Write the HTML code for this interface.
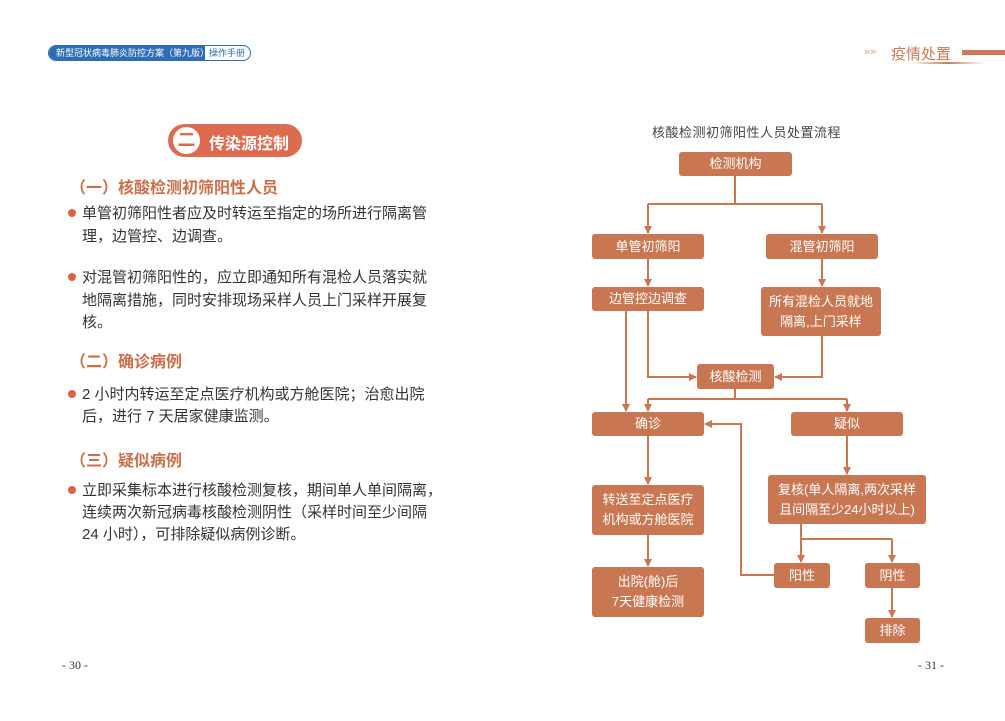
<!DOCTYPE html>
<html><head><meta charset="utf-8"><style>
body{margin:0;width:1005px;height:721px;background:#fff;position:relative;overflow:hidden;font-family:"Liberation Sans","Noto Sans CJK SC",sans-serif;}
.a{position:absolute;white-space:nowrap;}
.t{font-size:15px;color:#333;left:82px;line-height:15px;}
.d{position:absolute;width:8px;height:8px;border-radius:50%;background:#d9644a;left:68px;}
.h{font-size:16px;font-weight:bold;color:#c8704a;left:70px;}
.b{position:absolute;background:#c97752;border-radius:3px;color:#fff;font-size:13px;display:flex;align-items:center;justify-content:center;text-align:center;line-height:20px;}
</style></head><body>
<div class="a" style="left:48px;top:45px;width:203px;height:16px;border:1px solid #2f6db5;border-radius:9px;overflow:hidden;box-sizing:border-box;">
<div style="position:absolute;left:0;top:0;width:156px;height:16px;background:#2f6db5;color:#fff;font-size:9px;line-height:14px;padding-left:7px;box-sizing:border-box;">新型冠状病毒肺炎防控方案（第九版）</div>
<div style="position:absolute;left:160px;top:0;color:#2f6db5;font-size:9px;line-height:14px;">操作手册</div></div>
<div class="a" style="left:864px;top:46px;color:#d8a080;font-size:11px;">»»</div>
<div class="a" style="left:891px;top:43px;color:#c97c55;font-size:15px;">疫情处置</div>
<div class="a" style="left:962px;top:50px;width:43px;height:5px;background:#c97c55;"></div>
<div class="a" style="left:910px;top:62px;width:75px;height:2px;background:linear-gradient(90deg,#fff,#c97c55,#fff);"></div>

<div class="a" style="left:168px;top:124px;width:134px;height:33px;border-radius:17px;background:#dd6b50;"></div>
<div class="a" style="left:173px;top:127px;width:27px;height:27px;border-radius:50%;background:#fff;color:#dd6b50;font-weight:bold;font-size:18px;text-align:center;line-height:27px;">二</div>
<div class="a" style="left:209px;top:130px;color:#fff;font-weight:bold;font-size:16px;">传染源控制</div>

<div class="a h" style="top:174px;">（一）核酸检测初筛阳性人员</div>
<div class="d" style="top:209px"></div>
<div class="a t" style="top:206px">单管初筛阳性者应及时转运至指定的场所进行隔离管</div>
<div class="a t" style="top:229px">理，边管控、边调查。</div>
<div class="d" style="top:273px"></div>
<div class="a t" style="top:270px">对混管初筛阳性的，应立即通知所有混检人员落实就</div>
<div class="a t" style="top:293px">地隔离措施，同时安排现场采样人员上门采样开展复</div>
<div class="a t" style="top:315px">核。</div>
<div class="a h" style="top:348px;">（二）确诊病例</div>
<div class="d" style="top:390px"></div>
<div class="a t" style="top:387px">2 小时内转运至定点医疗机构或方舱医院；治愈出院</div>
<div class="a t" style="top:409px">后，进行 7 天居家健康监测。</div>
<div class="a h" style="top:447px;">（三）疑似病例</div>
<div class="d" style="top:486px"></div>
<div class="a t" style="top:483px">立即采集标本进行核酸检测复核，期间单人单间隔离，</div>
<div class="a t" style="top:505px">连续两次新冠病毒核酸检测阴性（采样时间至少间隔</div>
<div class="a t" style="top:527px">24 小时），可排除疑似病例诊断。</div>
<div class="a" style="left:62px;top:658px;font-size:12px;color:#333;font-family:'Liberation Serif',serif;">- 30 -</div>
<div class="a" style="left:918px;top:658px;font-size:12px;color:#333;font-family:'Liberation Serif',serif;">- 31 -</div>

<div class="a" style="left:652px;top:122px;font-size:13px;color:#444;letter-spacing:0.5px;">核酸检测初筛阳性人员处置流程</div>

<svg class="a" style="left:0;top:0" width="1005" height="721">
<defs><marker id="m" markerWidth="8" markerHeight="8" refX="7" refY="4" orient="auto" markerUnits="userSpaceOnUse"><path d="M0,0L8,4L0,8z" fill="#c97752"/></marker></defs>
<g stroke="#c97752" stroke-width="2" fill="none">
<path d="M735,176V204"/><path d="M648,204H822"/>
<path d="M648,204V233" marker-end="url(#m)"/><path d="M822,204V233" marker-end="url(#m)"/>
<path d="M648,259V286" marker-end="url(#m)"/><path d="M822,259V286" marker-end="url(#m)"/>
<path d="M648,311V377H696" marker-end="url(#m)"/>
<path d="M822,336V377H775" marker-end="url(#m)"/>
<path d="M626,311V411" marker-end="url(#m)"/>
<path d="M735,389V399"/><path d="M648,399H847"/>
<path d="M648,399V411" marker-end="url(#m)"/><path d="M847,399V411" marker-end="url(#m)"/>
<path d="M648,436V484" marker-end="url(#m)"/>
<path d="M648,535V566" marker-end="url(#m)"/>
<path d="M847,436V474" marker-end="url(#m)"/>
<path d="M801,524V539H892"/><path d="M801,539V562" marker-end="url(#m)"/><path d="M892,539V562" marker-end="url(#m)"/>
<path d="M892,588V617" marker-end="url(#m)"/>
<path d="M774,575H741V424H705" marker-end="url(#m)"/>
</g></svg>
<div class="b" style="left:679px;top:152px;width:113px;height:24px;">检测机构</div>
<div class="b" style="left:592px;top:234px;width:112px;height:25px;">单管初筛阳</div>
<div class="b" style="left:766px;top:234px;width:112px;height:25px;">混管初筛阳</div>
<div class="b" style="left:592px;top:287px;width:112px;height:24px;">边管控边调查</div>
<div class="b" style="left:761px;top:287px;width:120px;height:49px;">所有混检人员就地<br>隔离,上门采样</div>
<div class="b" style="left:697px;top:364px;width:77px;height:25px;">核酸检测</div>
<div class="b" style="left:592px;top:412px;width:112px;height:24px;">确诊</div>
<div class="b" style="left:791px;top:412px;width:112px;height:24px;">疑似</div>
<div class="b" style="left:592px;top:485px;width:112px;height:50px;">转送至定点医疗<br>机构或方舱医院</div>
<div class="b" style="left:768px;top:475px;width:158px;height:49px;">复核(单人隔离,两次采样<br>且间隔至少24小时以上)</div>
<div class="b" style="left:592px;top:567px;width:112px;height:50px;">出院(舱)后<br>7天健康检测</div>
<div class="b" style="left:774px;top:563px;width:56px;height:25px;">阳性</div>
<div class="b" style="left:865px;top:563px;width:55px;height:25px;">阴性</div>
<div class="b" style="left:865px;top:618px;width:55px;height:25px;">排除</div>
</body></html>
